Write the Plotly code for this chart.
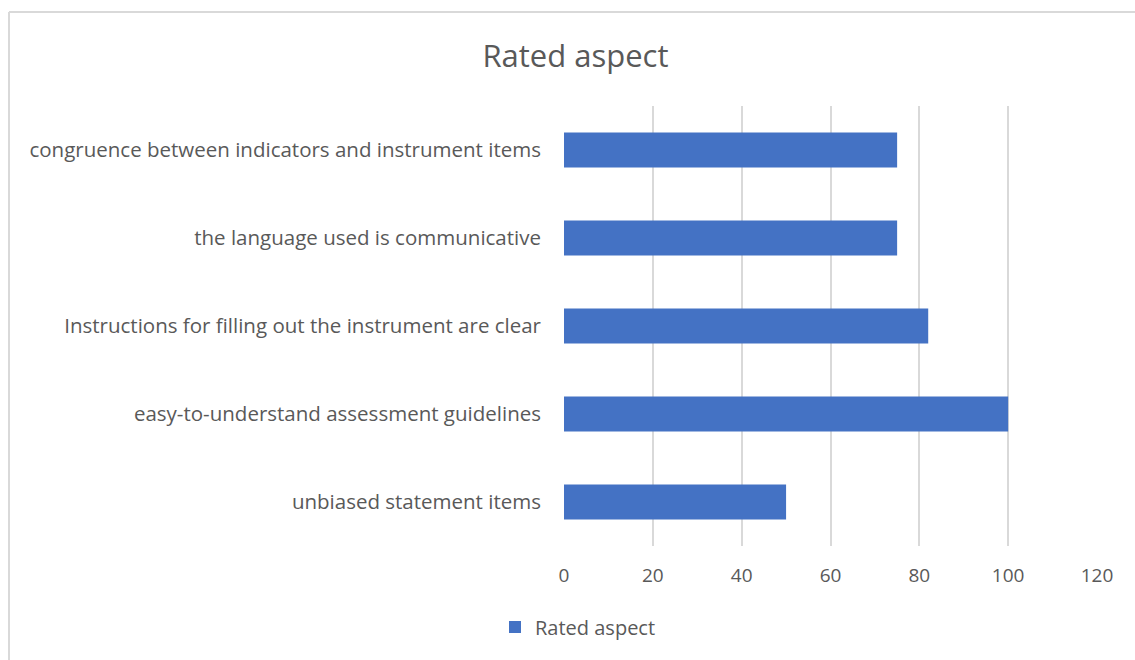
import plotly.graph_objects as go

categories = [
    "congruence between indicators and instrument items",
    "the language used is communicative",
    "Instructions for filling out the instrument are clear",
    "easy-to-understand assessment guidelines",
    "unbiased statement items",
]
values = [75, 75, 82, 100, 50]
series_name = "Rated aspect"
x_ticks = [0, 20, 40, 60, 80, 100, 120]

W, H = 1135, 660
ML, MR, MT, MB = 564, 38, 106, 114
pw, ph = W - ML - MR, H - MT - MB

def px_x(x):
    return (x - ML) / pw

def px_y(y):
    return (H - MB - y) / ph

font_family = "'Open Sans', sans-serif"
grey = "#595959"

fig = go.Figure()
fig.add_trace(go.Bar(
    x=values, y=categories, orientation="h", name=series_name,
    marker=dict(color="#4472C4", line=dict(width=0)),
    width=0.4, showlegend=True,
))

fig.update_layout(
    width=W, height=H,
    margin=dict(l=ML, r=MR, t=MT, b=MB),
    paper_bgcolor="white", plot_bgcolor="white",
    font=dict(family=font_family, color=grey, size=18),
    title=dict(text="Rated aspect", x=0.507, xanchor="center", y=1 - 56 / H,
               yanchor="middle", font=dict(size=31, color=grey, family=font_family)),
    xaxis=dict(range=[0, 120], tickvals=x_ticks, showgrid=True, gridcolor="#D9D9D9",
               gridwidth=2, zeroline=False, showline=False, ticks="",
               ticklabelstandoff=16, tickfont=dict(size=19, color=grey), fixedrange=True),
    yaxis=dict(range=[4.5, -0.5], showgrid=False, zeroline=False, showline=False,
               ticks="", ticklabelstandoff=22, tickfont=dict(size=20.5, color=grey)),
    legend=dict(orientation="h", x=px_x(495), xanchor="left", y=px_y(627), yanchor="middle",
                font=dict(size=20, color=grey), bgcolor="rgba(0,0,0,0)"),
    shapes=[
        dict(type="line", xref="paper", yref="paper", x0=px_x(9), x1=px_x(9),
             y0=px_y(12), y1=px_y(H + 5), line=dict(color="#D9D9D9", width=2)),
        dict(type="line", xref="paper", yref="paper", x0=px_x(9), x1=px_x(W + 5),
             y0=px_y(12), y1=px_y(12), line=dict(color="#D9D9D9", width=2)),
    ],
)

fig.write_html("out.html")
